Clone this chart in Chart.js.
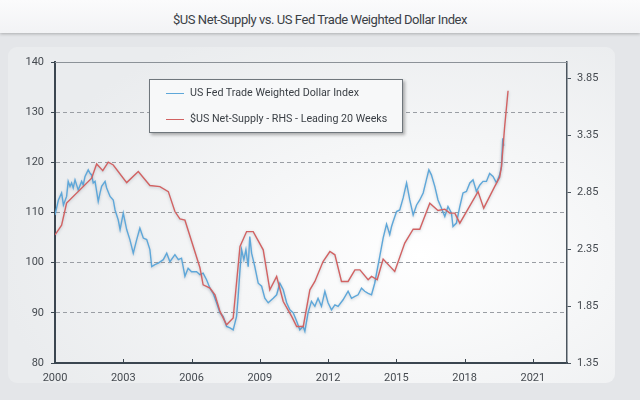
<!DOCTYPE html>
<html>
<head>
<meta charset="utf-8">
<script src="https://cdn.jsdelivr.net/npm/chart.js@4.4.0/dist/chart.umd.min.js"></script>
<style>
  html, body { margin: 0; padding: 0; }
  body {
    width: 640px; height: 400px; position: relative; overflow: hidden;
    background: #e4e6e9;
    font-family: Roboto, "Open Sans", sans-serif;
  }
  #titlebar {
    position: absolute; left: 0; top: 0; width: 640px; height: 33px;
    background: linear-gradient(#fbfbfc, #f2f3f5);
    box-shadow: 0 1px 3px rgba(0, 0, 0, 0.25);
    text-align: center; line-height: 39px; font-size: 13px; letter-spacing: -0.45px; color: #3b4046;
  }
  #panel {
    position: absolute; left: 8px; top: 47px; width: 607px; height: 336px;
    border-radius: 9px;
    background: radial-gradient(ellipse 70% 75% at 68% 62%, #ffffff 0%, #f5f6f7 45%, #eaecee 100%);
  }
  #chart { position: absolute; left: 0; top: 0; }
  #legend {
    position: absolute; left: 149px; top: 79px; width: 252px; height: 52px;
    background: #f7f8f9; border: 1px solid #6f767c;
    box-shadow: 2px 2px 3px rgba(0, 0, 0, 0.3);
    font-size: 10.7px; color: #3a3f45;
  }
  .item { position: absolute; left: 16px; height: 14px; line-height: 14px; white-space: nowrap; }
  .item span.swatch { display: inline-block; width: 18px; height: 0; border-top: 1.5px solid; vertical-align: middle; margin-right: 6px; }
</style>
</head>
<body>
<div id="titlebar"></div>
<div id="panel"></div>
<canvas id="chart" width="640" height="400"></canvas>
<div id="legend"></div>
<script>
// US Fed trade weighted dollar index (left axis)
const fxYears = [
  2000.00, 2000.15, 2000.29, 2000.37, 2000.51, 2000.58, 2000.66, 2000.73, 2000.80, 2000.88,
  2001.02, 2001.17, 2001.24, 2001.32, 2001.46, 2001.54, 2001.61, 2001.68, 2001.76, 2001.83,
  2001.90, 2001.98, 2002.05, 2002.20, 2002.27, 2002.42, 2002.56, 2002.64, 2002.78, 2002.86,
  2003.00, 2003.15, 2003.29, 2003.44, 2003.59, 2003.73, 2003.88, 2004.03, 2004.17, 2004.25,
  2004.39, 2004.54, 2004.76, 2004.91, 2005.05, 2005.27, 2005.42, 2005.56, 2005.71, 2005.85,
  2006.00, 2006.22, 2006.37, 2006.51, 2006.66, 2006.81, 2006.95, 2007.10, 2007.25, 2007.39,
  2007.54, 2007.69, 2007.83, 2007.98, 2008.05, 2008.13, 2008.20, 2008.30, 2008.39, 2008.49,
  2008.56, 2008.64, 2008.78, 2008.93, 2009.08, 2009.22, 2009.37, 2009.59, 2009.74, 2009.88,
  2010.03, 2010.18, 2010.32, 2010.47, 2010.62, 2010.76, 2010.90, 2010.98, 2011.12, 2011.27,
  2011.42, 2011.56, 2011.71, 2011.86, 2012.00, 2012.15, 2012.30, 2012.44, 2012.66, 2012.88,
  2013.03, 2013.18, 2013.32, 2013.47, 2013.61, 2013.76, 2013.91, 2014.05, 2014.16, 2014.27,
  2014.42, 2014.57, 2014.71, 2014.79, 2014.86, 2015.01, 2015.15, 2015.30, 2015.45, 2015.59,
  2015.74, 2015.89, 2016.03, 2016.18, 2016.32, 2016.43, 2016.54, 2016.69, 2016.83, 2016.98,
  2017.13, 2017.27, 2017.42, 2017.49, 2017.64, 2017.79, 2017.93, 2018.08, 2018.23, 2018.37,
  2018.52, 2018.67, 2018.81, 2018.96, 2019.10, 2019.25, 2019.40, 2019.54, 2019.62, 2019.68,
  2019.72
];
const fxValues = [
  109.5, 112.5, 113.9, 111.5, 113.2, 116.2, 115.2, 115.9, 114.9, 116.5,
  114.5, 116.2, 115.5, 117.2, 118.5, 117.8, 117.5, 115.9, 116.2, 114.2,
  112.2, 113.9, 115.2, 116.2, 114.9, 113.2, 112.5, 110.5, 108.5, 106.6,
  109.9, 106.6, 104.6, 101.9, 104.6, 106.9, 104.9, 104.6, 102.6, 99.2,
  99.6, 99.9, 100.6, 101.9, 100.2, 101.6, 100.6, 100.9, 97.3, 98.9,
  98.2, 98.2, 97.6, 97.9, 96.6, 94.9, 93.9, 92.0, 90.0, 89.3,
  87.3, 87.0, 86.6, 89.3, 93.3, 98.6, 102.6, 100.6, 102.6, 99.2,
  105.2, 101.9, 99.2, 95.9, 95.3, 92.9, 92.0, 92.9, 93.6, 95.9,
  94.6, 92.0, 90.6, 90.0, 88.3, 86.6, 87.3, 86.3, 90.0, 92.3,
  91.3, 92.9, 91.3, 94.3, 92.0, 90.6, 91.6, 91.3, 92.6, 94.3,
  92.9, 93.3, 93.6, 94.9, 94.3, 93.9, 93.6, 95.9, 98.6, 101.2,
  104.9, 107.7, 105.6, 107.2, 108.2, 110.2, 110.5, 112.9, 115.9, 112.5,
  109.5, 111.5, 112.5, 113.9, 116.5, 118.5, 117.5, 115.2, 112.5, 110.9,
  109.2, 111.2, 109.9, 107.2, 107.9, 111.2, 113.9, 114.2, 115.9, 116.5,
  114.2, 115.5, 116.2, 116.2, 117.8, 117.2, 115.9, 117.5, 119.2, 124.8,
  123.3
];

// $US net-supply, leading 20 weeks (right axis)
const nsYears = [
  2000.00, 2000.29, 2000.51, 2001.61, 2001.83, 2002.10, 2002.34, 2002.56, 2003.15, 2003.66,
  2004.17, 2004.61, 2004.98, 2005.27, 2005.49, 2005.71, 2006.37, 2006.51, 2006.81, 2007.03,
  2007.25, 2007.54, 2007.83, 2008.13, 2008.42, 2008.71, 2009.15, 2009.44, 2009.74, 2010.03,
  2010.40, 2010.62, 2010.91, 2011.20, 2011.42, 2011.78, 2012.08, 2012.30, 2012.59, 2012.88,
  2013.18, 2013.40, 2013.76, 2013.91, 2014.16, 2014.42, 2014.93, 2015.37, 2015.74, 2016.03,
  2016.47, 2016.83, 2017.13, 2017.35, 2017.57, 2017.79, 2018.59, 2018.84, 2019.32, 2019.54,
  2019.62, 2019.76, 2019.91
];
const nsValues = [
  2.475, 2.56, 2.754, 2.973, 3.098, 3.039, 3.113, 3.089, 2.934, 3.031,
  2.908, 2.899, 2.855, 2.680, 2.616, 2.604, 2.186, 2.037, 2.008, 1.949,
  1.803, 1.686, 1.745, 2.373, 2.504, 2.504, 2.344, 1.993, 2.110, 1.890,
  1.759, 1.671, 1.671, 1.993, 2.066, 2.241, 2.329, 2.300, 2.066, 2.066,
  2.168, 2.168, 2.081, 2.110, 2.081, 2.262, 2.153, 2.403, 2.525, 2.525,
  2.753, 2.689, 2.701, 2.666, 2.666, 2.578, 2.855, 2.710, 2.899, 2.980,
  3.075, 3.425, 3.741
];

const leftTicks = [80, 90, 100, 110, 120, 130, 140];
const rightTicks = [1.35, 1.85, 2.35, 2.85, 3.35, 3.85];
const yearTicks = [2000, 2003, 2006, 2009, 2012, 2015, 2018, 2021];
const seriesLabels = ['US Fed Trade Weighted Dollar Index', '$US Net-Supply - RHS - Leading 20 Weeks'];
const seriesColors = ['#5ea7d9', '#d26262'];
const chartTitle = '$US Net-Supply vs. US Fed Trade Weighted Dollar Index';

document.getElementById('titlebar').textContent = chartTitle;

// legend box, drawn as html over the plot
const legendEl = document.getElementById('legend');
seriesLabels.forEach((lbl, i) => {
    const row = document.createElement('div');
    row.className = 'item';
    row.style.top = (i === 0 ? 6 : 32) + 'px';
    const sw = document.createElement('span');
    sw.className = 'swatch';
    sw.style.borderTopColor = seriesColors[i];
    row.appendChild(sw);
    row.appendChild(document.createTextNode(lbl));
    legendEl.appendChild(row);
});

const axisColor = '#3b4650';
const labelFont = { family: 'Roboto, "Open Sans", sans-serif', size: 11 };

// top border line, inward x ticks, soft shadow under the lines
const decor = {
    id: 'decor',
    beforeDatasetsDraw(chart) {
        const { ctx, chartArea: a, scales } = chart;
        ctx.save();
        ctx.strokeStyle = '#8c9298';
        ctx.lineWidth = 1;
        ctx.beginPath();
        ctx.moveTo(a.left, a.top + 0.5);
        ctx.lineTo(a.right, a.top + 0.5);
        ctx.stroke();
        ctx.strokeStyle = axisColor;
        yearTicks.forEach(v => {
            const px = Math.round(scales.x.getPixelForValue(v)) + 0.5;
            ctx.beginPath();
            ctx.moveTo(px, a.bottom);
            ctx.lineTo(px, a.bottom - 4);
            ctx.stroke();
        });
        ctx.restore();
    },
    beforeDatasetDraw(chart) {
        const ctx = chart.ctx;
        ctx.save();
        ctx.shadowColor = 'rgba(40, 70, 100, 0.25)';
        ctx.shadowBlur = 3;
        ctx.shadowOffsetY = 1;
    },
    afterDatasetDraw(chart) {
        chart.ctx.restore();
    }
};

new Chart(document.getElementById('chart'), {
    type: 'line',
    data: {
        datasets: [
            {
                label: seriesLabels[0],
                data: fxYears.map((x, i) => ({ x, y: fxValues[i] })),
                yAxisID: 'y',
                borderColor: seriesColors[0],
                borderWidth: 1.4,
                pointRadius: 0,
                tension: 0,
                order: 1
            },
            {
                label: seriesLabels[1],
                data: nsYears.map((x, i) => ({ x, y: nsValues[i] })),
                yAxisID: 'y2',
                borderColor: seriesColors[1],
                borderWidth: 1.4,
                pointRadius: 0,
                tension: 0,
                order: 0
            }
        ]
    },
    options: {
        responsive: false,
        animation: false,
        layout: { padding: { top: 62, left: 0, right: 0, bottom: 0 } },
        plugins: { legend: { display: false }, tooltip: { enabled: false } },
        scales: {
            x: {
                type: 'linear',
                min: 2000,
                max: 2022.5,
                afterBuildTicks: s => { s.ticks = yearTicks.map(v => ({ value: v })); },
                afterFit: s => { s.height = 37; },
                grid: { drawOnChartArea: false, drawTicks: false },
                border: { display: true, color: axisColor, width: 2 },
                ticks: { color: '#454a50', font: labelFont, padding: 9, maxRotation: 0, autoSkip: false, callback: v => String(v) }
            },
            y: {
                position: 'left',
                min: 80,
                max: 140,
                afterBuildTicks: s => { s.ticks = leftTicks.map(v => ({ value: v })); },
                afterFit: s => { s.width = 55; },
                grid: {
                    color: c => (c.tick && (c.tick.value === 80 || c.tick.value === 140)) ? 'rgba(0,0,0,0)' : '#9a9ea4',
                    tickColor: axisColor,
                    tickLength: 4
                },
                border: { display: true, color: axisColor, width: 2, dash: [4, 3] },
                ticks: { color: '#454a50', font: labelFont, padding: 7 }
            },
            y2: {
                position: 'right',
                min: 1.35,
                max: 3.993,
                afterBuildTicks: s => { s.ticks = rightTicks.map(v => ({ value: v })); },
                afterFit: s => { s.width = 73; },
                grid: { drawOnChartArea: false, tickColor: '#4b555e', tickLength: 4 },
                border: { display: true, color: '#4b555e', width: 1.5 },
                ticks: { color: '#454a50', font: labelFont, padding: 6, callback: v => v.toFixed(2) }
            }
        }
    },
    plugins: [decor]
});
</script>
</body>
</html>
